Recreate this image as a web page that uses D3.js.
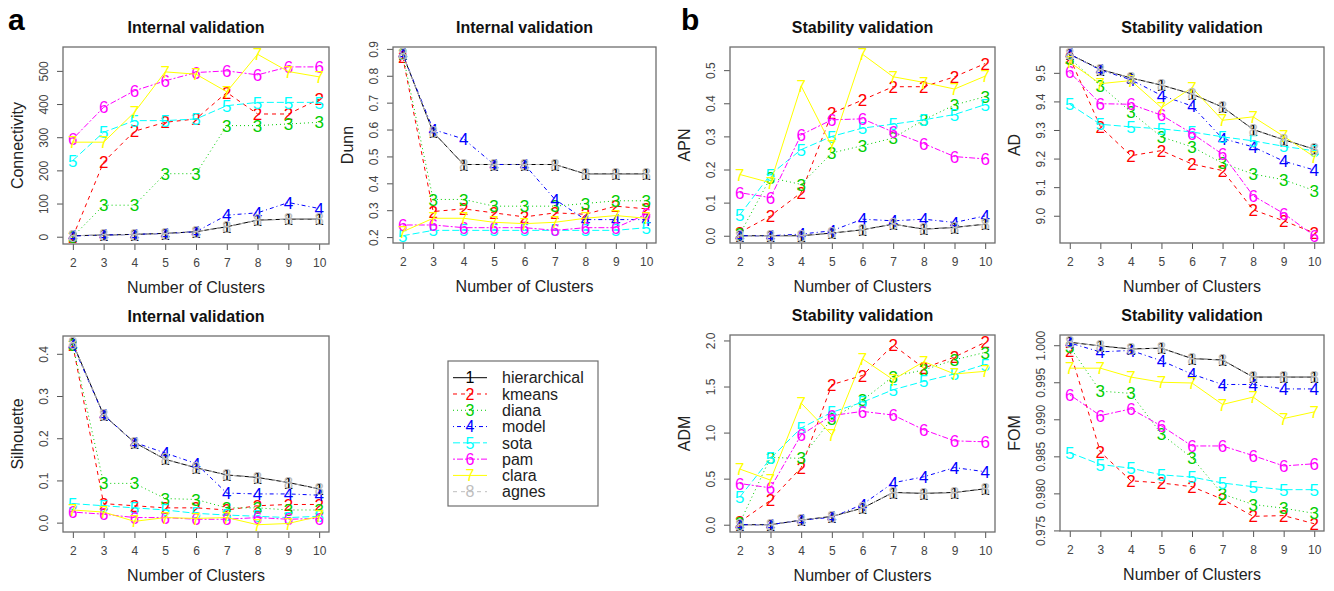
<!DOCTYPE html>
<html>
<head>
<meta charset="utf-8">
<script src="https://cdn.jsdelivr.net/npm/d3@7"></script>
<style>
  html, body { margin: 0; padding: 0; background: #fff; }
  svg text { font-family: "Liberation Sans", Arial, Helvetica, sans-serif; }
</style>
</head>
<body>
<svg id="chart" width="1334" height="591"></svg>
<script>
// ---------- data ----------
const clusters = [2, 3, 4, 5, 6, 7, 8, 9, 10];
const methods = ["hierarchical", "kmeans", "diana", "model", "sota", "pam", "clara", "agnes"];
const methodColors = ["#000000", "#ff0000", "#00cd00", "#0000ff", "#00ffff", "#ff00ff", "#ffff00", "#bebebe"];
const methodDashes = [null, "4,4", "1,3", "1,3,4,3", "7,3", "2,2,6,2", null, "4,4"];

// rows follow "methods" order
const connectivityValues = [
  [3, 5, 7, 10, 15, 30, 50, 53, 53],
  [0, 225, 318, 345, 355, 435, 370, 370, 415],
  [0, 95, 95, 190, 190, 335, 335, 340, 345],
  [2, 5, 7, 10, 15, 65, 72, 103, 85],
  [230, 315, 350, 350, 355, 395, 405, 405, 405],
  [295, 390, 440, 470, 495, 500, 488, 512, 512],
  [285, 285, 375, 497, 490, 437, 550, 498, 482],
  [3, 5, 7, 10, 15, 30, 50, 53, 53]
];
const dunnValues = [
  [0.88, 0.59, 0.47, 0.47, 0.47, 0.47, 0.435, 0.435, 0.435],
  [0.87, 0.295, 0.305, 0.29, 0.275, 0.29, 0.285, 0.315, 0.305],
  [0.88, 0.34, 0.34, 0.315, 0.315, 0.315, 0.325, 0.335, 0.335],
  [0.88, 0.60, 0.565, 0.47, 0.47, 0.34, 0.265, 0.265, 0.265],
  [0.205, 0.225, 0.225, 0.225, 0.225, 0.225, 0.225, 0.225, 0.235],
  [0.245, 0.245, 0.235, 0.235, 0.235, 0.225, 0.235, 0.235, 0.285],
  [0.22, 0.27, 0.27, 0.255, 0.25, 0.255, 0.27, 0.28, 0.27],
  [0.88, 0.59, 0.47, 0.47, 0.47, 0.47, 0.435, 0.435, 0.435]
];
const silhouetteValues = [
  [0.425, 0.255, 0.19, 0.15, 0.13, 0.113, 0.107, 0.095, 0.08],
  [0.42, 0.045, 0.04, 0.035, 0.035, 0.03, 0.04, 0.043, 0.043],
  [0.42, 0.093, 0.093, 0.057, 0.055, 0.035, 0.035, 0.03, 0.03],
  [0.42, 0.255, 0.19, 0.165, 0.14, 0.07, 0.068, 0.068, 0.065],
  [0.045, 0.04, 0.035, 0.03, 0.022, 0.018, 0.015, 0.012, 0.015],
  [0.025, 0.02, 0.012, 0.012, 0.008, 0.008, 0.012, 0.008, 0.01],
  [0.03, 0.025, 0.003, 0.012, 0.01, 0.012, -0.005, -0.002, 0.015],
  [0.425, 0.255, 0.19, 0.15, 0.13, 0.113, 0.107, 0.095, 0.08]
];
const apnValues = [
  [0.0, 0.0, 0.0, 0.008, 0.018, 0.035, 0.02, 0.025, 0.035],
  [0.01, 0.06, 0.13, 0.37, 0.41, 0.45, 0.45, 0.48, 0.52],
  [0.005, 0.175, 0.155, 0.25, 0.272, 0.295, 0.35, 0.395, 0.42],
  [0.0, 0.0, 0.005, 0.015, 0.05, 0.045, 0.05, 0.04, 0.06],
  [0.063, 0.185, 0.26, 0.30, 0.325, 0.337, 0.35, 0.366, 0.396],
  [0.13, 0.115, 0.305, 0.35, 0.353, 0.313, 0.278, 0.239, 0.232],
  [0.185, 0.16, 0.452, 0.27, 0.548, 0.48, 0.463, 0.443, 0.482],
  [0.0, 0.0, 0.0, 0.008, 0.018, 0.035, 0.02, 0.025, 0.035]
];
const adValues = [
  [9.565, 9.512, 9.482, 9.457, 9.426, 9.38, 9.302, 9.266, 9.233],
  [9.553, 9.312, 9.21, 9.228, 9.181, 9.158, 9.021, 8.982, 8.94],
  [9.55, 9.456, 9.363, 9.276, 9.241, 9.184, 9.146, 9.126, 9.088],
  [9.565, 9.51, 9.476, 9.421, 9.384, 9.27, 9.241, 9.191, 9.16],
  [9.39, 9.32, 9.311, 9.304, 9.293, 9.276, 9.262, 9.243, 9.227],
  [9.502, 9.392, 9.39, 9.352, 9.288, 9.215, 9.07, 9.008, 8.93],
  [9.537, 9.462, 9.473, 9.378, 9.448, 9.334, 9.346, 9.278, 9.206],
  [9.565, 9.512, 9.482, 9.457, 9.426, 9.38, 9.302, 9.266, 9.233]
];
const admValues = [
  [0.0, 0.0, 0.05, 0.09, 0.18, 0.35, 0.34, 0.35, 0.39],
  [0.03, 0.265, 0.62, 1.52, 1.62, 1.95, 1.70, 1.82, 1.98],
  [0.02, 0.73, 0.72, 1.15, 1.35, 1.61, 1.68, 1.79, 1.87],
  [0.0, 0.0, 0.05, 0.08, 0.22, 0.455, 0.52, 0.62, 0.575],
  [0.30, 0.72, 1.05, 1.22, 1.33, 1.465, 1.556, 1.636, 1.74],
  [0.447, 0.40, 0.975, 1.185, 1.23, 1.19, 1.03, 0.91, 0.90],
  [0.604, 0.484, 1.32, 0.975, 1.80, 1.575, 1.77, 1.636, 1.665],
  [0.0, 0.0, 0.05, 0.09, 0.18, 0.35, 0.34, 0.35, 0.39]
];
const fomValues = [
  [1.0004, 0.9999, 0.9995, 0.9996, 0.9982, 0.9980, 0.9957, 0.9957, 0.9957],
  [0.9993, 0.9856, 0.9817, 0.9814, 0.9809, 0.9792, 0.9769, 0.9770, 0.9759],
  [0.9998, 0.9938, 0.9935, 0.9880, 0.9848, 0.9799, 0.9785, 0.9780, 0.9773],
  [1.0003, 0.9991, 0.9993, 0.9979, 0.9961, 0.9947, 0.9947, 0.9941, 0.9941],
  [0.9855, 0.9839, 0.9834, 0.9825, 0.9822, 0.9814, 0.9809, 0.9805, 0.9805],
  [0.9933, 0.9905, 0.9914, 0.9891, 0.9864, 0.9864, 0.9851, 0.9837, 0.9840],
  [0.9969, 0.9969, 0.9957, 0.9950, 0.9949, 0.9920, 0.9930, 0.9901, 0.9910],
  [1.0004, 0.9999, 0.9995, 0.9996, 0.9982, 0.9980, 0.9957, 0.9957, 0.9957]
];

const connectivityTicks = [0, 100, 200, 300, 400, 500];
const dunnTicks = [0.2, 0.3, 0.4, 0.5, 0.6, 0.7, 0.8, 0.9];
const silhouetteTicks = [0.0, 0.1, 0.2, 0.3, 0.4];
const apnTicks = [0.0, 0.1, 0.2, 0.3, 0.4, 0.5];
const adTicks = [9.0, 9.1, 9.2, 9.3, 9.4, 9.5];
const admTicks = [0.0, 0.5, 1.0, 1.5, 2.0];
const fomTicks = [0.975, 0.980, 0.985, 0.990, 0.995, 1.000];

// ---------- layout ----------
const panels = [
  { title: "Internal validation", ylab: "Connectivity", values: connectivityValues, ticks: connectivityTicks, fmt: d3.format("d"),   box: [63, 329, 47, 244] },
  { title: "Internal validation", ylab: "Dunn",         values: dunnValues,         ticks: dunnTicks,         fmt: d3.format(".1f"), box: [393, 656, 47, 243] },
  { title: "Stability validation", ylab: "APN",         values: apnValues,          ticks: apnTicks,          fmt: d3.format(".1f"), box: [730, 995, 47, 243] },
  { title: "Stability validation", ylab: "AD",          values: adValues,           ticks: adTicks,           fmt: d3.format(".1f"), box: [1060, 1324, 47, 243] },
  { title: "Internal validation", ylab: "Silhouette",   values: silhouetteValues,   ticks: silhouetteTicks,   fmt: d3.format(".1f"), box: [63, 329, 336, 532] },
  { title: "Stability validation", ylab: "ADM",         values: admValues,          ticks: admTicks,          fmt: d3.format(".1f"), box: [730, 995, 335, 532] },
  { title: "Stability validation", ylab: "FOM",         values: fomValues,          ticks: fomTicks,          fmt: d3.format(".3f"), box: [1060, 1324, 335, 531] }
];

const svg = d3.select("#chart");
const axisGray = "#555";
const boxGray = "#6e6e6e";

function padded(lo, hi) {
  const p = (hi - lo) * 0.04;
  return [lo - p, hi + p];
}

panels.forEach(p => {
  const [x0, x1, y0, y1] = p.box;
  const g = svg.append("g");
  const all = p.values.flat();
  const x = d3.scaleLinear().domain(padded(d3.min(clusters), d3.max(clusters))).range([x0, x1]);
  const y = d3.scaleLinear().domain(padded(d3.min(all), d3.max(all))).range([y1, y0]);

  // x axis
  const xa = g.append("g").attr("transform", `translate(0,${y1})`)
    .call(d3.axisBottom(x).tickValues(clusters).tickSize(6).tickPadding(8).tickFormat(d3.format("d")));
  xa.select(".domain").remove();
  xa.selectAll("line").attr("stroke", axisGray);
  xa.selectAll("text").attr("fill", "#444").style("font-size", "12px");

  // y axis
  const ya = g.append("g").attr("transform", `translate(${x0},0)`)
    .call(d3.axisLeft(y).tickValues(p.ticks).tickSize(6).tickFormat(p.fmt));
  ya.select(".domain").remove();
  ya.selectAll("line").attr("stroke", axisGray);
  ya.selectAll("text")
    .attr("fill", "#444").style("font-size", "12px")
    .attr("x", 0).attr("dy", 0)
    .attr("text-anchor", "middle")
    .attr("transform", "translate(-15,0) rotate(-90)");

  // series
  p.values.forEach((vals, i) => {
    const pts = clusters.map((c, j) => [c, vals[j]]);
    g.append("path")
      .attr("d", d3.line().x(d => x(d[0])).y(d => y(d[1]))(pts))
      .attr("fill", "none")
      .attr("stroke", methodColors[i])
      .attr("stroke-width", 1)
      .attr("stroke-dasharray", methodDashes[i]);
    g.selectAll(null).data(pts).join("text")
      .attr("x", d => x(d[0]))
      .attr("y", d => y(d[1]))
      .attr("text-anchor", "middle")
      .attr("dy", "0.36em")
      .attr("fill", methodColors[i])
      .style("font-size", "17px")
      .text(String(i + 1));
  });

  // box
  g.append("rect").attr("x", x0).attr("y", y0).attr("width", x1 - x0).attr("height", y1 - y0)
    .attr("fill", "none").attr("stroke", boxGray).attr("stroke-width", 1.3);

  // titles
  g.append("text").attr("x", (x0 + x1) / 2).attr("y", y0 - 14)
    .attr("text-anchor", "middle").style("font-size", "16px").style("font-weight", "bold")
    .attr("fill", "#111").text(p.title);
  g.append("text").attr("x", (x0 + x1) / 2).attr("y", y1 + 49)
    .attr("text-anchor", "middle").style("font-size", "16px").attr("fill", "#222")
    .text("Number of Clusters");
  g.append("text")
    .attr("transform", `translate(${x0 - 40},${(y0 + y1) / 2}) rotate(-90)`)
    .attr("text-anchor", "middle").style("font-size", "16px").attr("fill", "#222")
    .text(p.ylab);
});

// panel letters
svg.append("text").attr("x", 8).attr("y", 30).style("font-size", "30px").style("font-weight", "bold").text("a");
svg.append("text").attr("x", 681).attr("y", 30).style("font-size", "30px").style("font-weight", "bold").text("b");

// legend
const lg = svg.append("g");
lg.append("rect").attr("x", 448).attr("y", 361).attr("width", 150).attr("height", 145)
  .attr("fill", "#fff").attr("stroke", boxGray).attr("stroke-width", 1.2);
const rowY = d3.scaleLinear().domain([0, methods.length - 1]).range([377.7, 491.7]);
methods.forEach((m, i) => {
  const yy = rowY(i);
  lg.append("line").attr("x1", 453).attr("x2", 487).attr("y1", yy).attr("y2", yy)
    .attr("stroke", methodColors[i]).attr("stroke-dasharray", methodDashes[i]);
  lg.append("text").attr("x", 470).attr("y", yy).attr("dy", "0.36em").attr("text-anchor", "middle")
    .style("font-size", "16px").attr("fill", methodColors[i]).text(String(i + 1));
  lg.append("text").attr("x", 502).attr("y", yy).attr("dy", "0.36em")
    .style("font-size", "16px").attr("fill", "#222").text(m);
});
</script>
</body>
</html>
